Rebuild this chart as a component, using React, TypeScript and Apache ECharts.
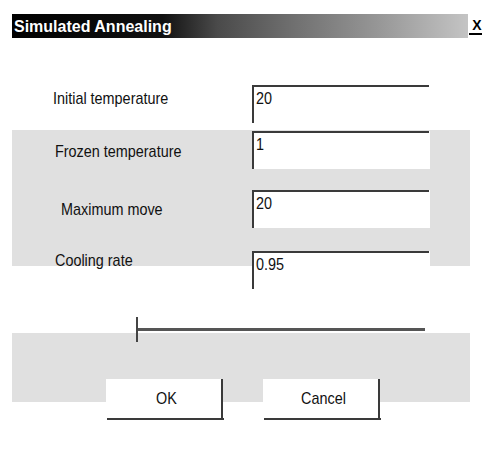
import React, { useEffect, useRef } from "react";
import * as echarts from "echarts";

const title = "Simulated Annealing";
const labels = ["Initial temperature", "Frozen temperature", " Maximum move", "Cooling rate"];
const values = ["20", "1", "20", "0.95"];
const buttons = ["OK", "Cancel"];

// layout (kept separate from the data)
const labelX = [53, 55, 57, 55];
const labelY = [98, 151, 209, 260];
const boxTop = [85, 131, 190, 251];
const boxBottom = [123, 169, 228, 289];
const boxLeft = 252;
const boxRight = 430;
const buttonLeft = [106, 263];
const buttonWidth = 117;

const FONT = "'Liberation Sans', Arial, sans-serif";
const DARK = "#3a3a3a";

export default function App() {
  const ref = useRef<HTMLDivElement>(null);
  useEffect(() => {
    if (!ref.current) return;
    const chart = echarts.init(ref.current, null, { renderer: "svg", width: 483, height: 464 });
    const els: any[] = [];
    // title bar
    els.push({
      type: "rect",
      shape: { x: 12, y: 14, width: 456, height: 24 },
      style: {
        fill: {
          type: "linear", x: 0, y: 0, x2: 1, y2: 0,
          colorStops: [
            { offset: 0, color: "#000000" },
            { offset: 0.33, color: "#111111" },
            { offset: 0.45, color: "#4a4a4a" },
            { offset: 0.6, color: "#6c6c6c" },
            { offset: 0.8, color: "#969696" },
            { offset: 1, color: "#c4c4c4" },
          ],
        },
      },
    });
    els.push({
      type: "text", x: 14, y: 26,
      style: { text: title, fill: "#fff", font: `bold 16px ${FONT}`, verticalAlign: "middle", textAlign: "left" },
    });
    els.push({
      type: "text", x: 477, y: 25,
      style: { text: "X", fill: "#000", font: `bold 14px ${FONT}`, verticalAlign: "middle", textAlign: "center" },
    });
    els.push({ type: "rect", shape: { x: 469, y: 33, width: 13, height: 2 }, style: { fill: "#000" } });

    // gray bands
    els.push({ type: "rect", shape: { x: 12, y: 130, width: 458, height: 136 }, style: { fill: "#e0e0e0" } });
    els.push({ type: "rect", shape: { x: 12, y: 333, width: 458, height: 69 }, style: { fill: "#e0e0e0" } });

    // rows
    labels.forEach((lab, i) => {
      els.push({
        type: "text", x: labelX[i], y: labelY[i], scaleX: 0.9,
        style: { text: lab, fill: "#111", font: `16px ${FONT}`, verticalAlign: "middle", textAlign: "left" },
      });
      const h = boxBottom[i] - boxTop[i];
      els.push({
        type: "rect",
        shape: { x: boxLeft, y: boxTop[i], width: boxRight - boxLeft, height: h },
        style: { fill: "#fff" },
      });
      els.push({ type: "rect", shape: { x: boxLeft, y: boxTop[i], width: boxRight - boxLeft - 1, height: 2 }, style: { fill: DARK } });
      els.push({ type: "rect", shape: { x: boxLeft, y: boxTop[i], width: 2, height: h }, style: { fill: DARK } });
      els.push({
        type: "text", x: 256, y: boxTop[i] + 13, scaleX: 0.9,
        style: { text: values[i], fill: "#111", font: `16px ${FONT}`, verticalAlign: "middle", textAlign: "left" },
      });
    });

    // slider
    els.push({ type: "rect", shape: { x: 137, y: 328, width: 288, height: 3 }, style: { fill: "#555" } });
    els.push({ type: "rect", shape: { x: 136, y: 317, width: 2, height: 25 }, style: { fill: "#444" } });

    // buttons
    buttons.forEach((b, i) => {
      const x0 = buttonLeft[i];
      els.push({ type: "rect", shape: { x: x0, y: 379, width: buttonWidth, height: 42 }, style: { fill: "#fff" } });
      els.push({ type: "rect", shape: { x: x0 + 1, y: 418, width: buttonWidth, height: 2 }, style: { fill: DARK } });
      els.push({ type: "rect", shape: { x: x0 + buttonWidth - 2, y: 379, width: 2, height: 41 }, style: { fill: DARK } });
      els.push({
        type: "text", x: x0 + buttonWidth / 2 + 2, y: 398, scaleX: 0.9,
        style: { text: b, fill: "#111", font: `16px ${FONT}`, verticalAlign: "middle", textAlign: "center" },
      });
    });

    chart.setOption({ animation: false, backgroundColor: "#ffffff", graphic: { elements: els } });
    return () => chart.dispose();
  }, []);
  return <div ref={ref} style={{ position: "absolute", left: 0, top: 0, width: 483, height: 464 }} />;
}
